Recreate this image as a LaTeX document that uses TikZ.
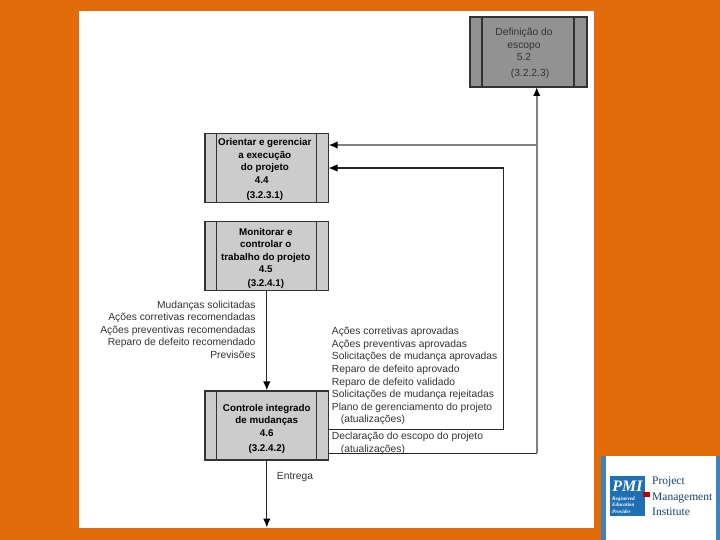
\documentclass[tikz,border=0pt]{standalone}
\usepackage{fontspec}
\setmainfont{Liberation Sans}
\newfontfamily\pmiserif{Liberation Serif}
\usetikzlibrary{arrows.meta}
\definecolor{slideorange}{HTML}{E36C0A}
\definecolor{boxlight}{HTML}{CCCCCC}
\definecolor{boxdark}{HTML}{929292}
\definecolor{pmiblue}{HTML}{1F6FB5}
\definecolor{pmiside}{HTML}{3F82BD}
\newcommand{\boxdrop}[1]{\rule{0pt}{#1}}
\tikzset{
  procbox/.style={draw=black!80, line width=1.3pt, minimum width=123.5pt, minimum height=69pt,
    inner sep=0pt, align=center, font=\fontsize{9.8}{12.6}\selectfont\bfseries, fill=boxlight,
    path picture={
      \draw[line width=1.2pt, black!80] ([xshift=11.5pt]path picture bounding box.north west) -- ([xshift=11.5pt]path picture bounding box.south west);
      \draw[line width=1.2pt, black!80] ([xshift=-12pt]path picture bounding box.north east) -- ([xshift=-12pt]path picture bounding box.south east);
    }},
  flowtext/.style={inner sep=0pt, text=black!80, font=\fontsize{10.3}{12.6}\selectfont},
  darkline/.style={line width=1.3pt, draw=black!85},
  grayline/.style={line width=2pt, draw=black!50},
  tip/.style={-{Latex[length=9pt,width=7.5pt,black]}}
}
\begin{document}
\begin{tikzpicture}[x=1pt,y=-1pt]
\useasboundingbox (0,0) rectangle (720,540);
\fill[slideorange] (0,0) rectangle (720,540);
\fill[white] (79,11) rectangle (594,528);

% Process boxes
\node[procbox, fill=boxdark, minimum width=117pt, minimum height=70pt, font=\fontsize{10.3}{12.6}\selectfont, text=black!80,
  path picture={
    \draw[line width=1.2pt, black!80] ([xshift=12pt]path picture bounding box.north west) -- ([xshift=12pt]path picture bounding box.south west);
    \draw[line width=1.2pt, black!80] ([xshift=-13pt]path picture bounding box.north east) -- ([xshift=-13pt]path picture bounding box.south east);
  }] (def) at (528.5,52) {\boxdrop{10pt}\hspace*{-9pt}Definição do\\\hspace*{-9pt}escopo\\\hspace*{-9pt}5.2\\[3pt]\hspace*{3pt}(3.2.2.3)};
\node[procbox] (orient) at (266.8,168) {\boxdrop{10pt}\hspace*{-4pt}Orientar e gerenciar\\\hspace*{-4pt}a execução\\\hspace*{-4pt}do projeto\\\hspace*{-10pt}4.4\\[2.5pt]\hspace*{-4pt}(3.2.3.1)};
\node[procbox] (monit) at (266.8,256) {\boxdrop{12pt}\hspace*{-2pt}Monitorar e\\\hspace*{-2pt}controlar o\\\hspace*{-2pt}trabalho do projeto\\\hspace*{-2pt}4.5\\[1.5pt]\hspace*{-2pt}(3.2.4.1)};
\node[procbox] (ctrl) at (266.8,425.5) {\boxdrop{14pt}Controle integrado\\de mudanças\\4.6\\[2.5pt](3.2.4.2)};

% Connector ends
\coordinate (ctrlA) at (328.5,429.5);
\coordinate (ctrlB) at (328.5,453.3);
\coordinate (cornerB) at (536.7,453.3);
\coordinate (defIn) at (536.7,87);
\coordinate (branch) at (536.7,145);
\coordinate (orientA) at (328.5,145);
\coordinate (orientB) at (328.5,168);
\coordinate (turnA) at (503.3,168);
\coordinate (exit) at (266.8,527.5);

% Connectors
\draw[darkline, tip] (monit) -- (ctrl);
\draw[darkline, tip] (ctrl) -- (exit);
\draw[darkline] (ctrlB) -- (cornerB);
\draw[grayline, tip] (cornerB) -- (defIn);
\draw[grayline, tip] (branch) -- (orientA);
\draw[darkline, tip] (ctrlA) -| (turnA) -- (orientB);

% Flow labels
\node[flowtext, align=right, anchor=north east] (inlist) at (255.7,300.5) {Mudanças solicitadas\\Ações corretivas recomendadas\\Ações preventivas recomendadas\\Reparo de defeito recomendado\\Previsões};
\node[flowtext, align=left, anchor=north west] (outlist) at (331.7,327) {Ações corretivas aprovadas\\Ações preventivas aprovadas\\Solicitações de mudança aprovadas\\Reparo de defeito aprovado\\Reparo de defeito validado\\Solicitações de mudança rejeitadas\\Plano de gerenciamento do projeto\\\hspace*{9pt}(atualizações)};
\node[flowtext, align=left, anchor=north west] (scopelist) at (331.7,432) {Declaração do escopo do projeto\\\hspace*{9pt}(atualizações)};
\node[flowtext] (entrega) at (295,477) {Entrega};

% Logo
\fill[white] (601,456) rectangle (720,540);
\fill[pmiside] (601,456) rectangle (606,540);
\fill[pmiside] (716,456) rectangle (720,540);
\fill[pmiblue] (610,476) rectangle (645,516);
\fill[red!75!black] (643,492) rectangle (650,497);
\node[text=white, inner sep=0pt, font=\fontsize{16}{16}\selectfont\pmiserif\bfseries\itshape] (pmi) at (627.5,486) {PMI};
\node[text=white, inner sep=0pt, align=left, anchor=west, font=\fontsize{5.2}{6.3}\selectfont\pmiserif\bfseries\itshape] (rep) at (612,505) {Registered\\Education\\Provider};
\node[text=pmiblue!60!black, inner sep=0pt, align=left, anchor=west, font=\fontsize{11.5}{15.5}\selectfont\pmiserif] (pminame) at (652,496.5) {Project\\Management\\Institute};
\end{tikzpicture}
\end{document}
